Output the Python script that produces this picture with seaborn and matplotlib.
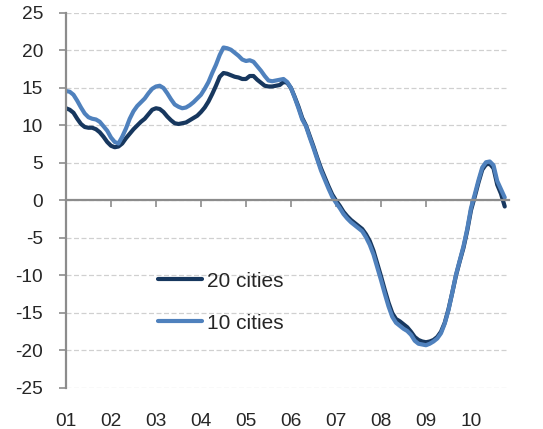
import pandas as pd
import seaborn as sns
import matplotlib.pyplot as plt

# monthly YoY % change, Jan 2001 .. Oct 2010
cities20 = [12.3, 12.1, 11.7, 10.9, 10.2, 9.8, 9.7, 9.7, 9.5, 9.1, 8.5, 7.8,
            7.3, 7.1, 7.2, 7.6, 8.3, 8.9, 9.5, 10.0, 10.5, 10.9, 11.5, 12.1,
            12.3, 12.2, 11.8, 11.2, 10.7, 10.3, 10.2, 10.3, 10.4, 10.7, 11.0, 11.3,
            11.8, 12.4, 13.2, 14.2, 15.3, 16.5, 17.0, 16.9, 16.7, 16.5, 16.4, 16.2,
            16.2, 16.6, 16.6, 16.1, 15.7, 15.3, 15.2, 15.2, 15.3, 15.4, 15.8, 15.7,
            15.0, 13.8, 12.5, 11.0, 10.0, 8.6, 7.2, 5.7, 4.3, 3.1, 1.9, 0.8,
            0.0, -0.7, -1.5, -2.1, -2.6, -3.0, -3.4, -3.8, -4.5, -5.4, -6.7, -8.4,
            -10.1, -11.9, -13.6, -15.0, -15.8, -16.1, -16.5, -16.9, -17.5, -18.2, -18.6, -18.8,
            -18.9, -18.8, -18.6, -18.2, -17.5, -16.3, -14.5, -12.3, -10.0, -8.1, -6.3, -4.0,
            -1.3, 0.5, 2.4, 4.1, 4.8, 4.9, 4.3, 2.1, 0.9, -0.8]

cities10 = [14.6, 14.5, 14.1, 13.3, 12.4, 11.6, 11.1, 10.9, 10.8, 10.5, 9.9, 9.3,
            8.4, 7.8, 7.6, 8.5, 9.6, 10.9, 11.9, 12.6, 13.1, 13.6, 14.3, 14.9,
            15.2, 15.3, 15.0, 14.3, 13.5, 12.8, 12.5, 12.3, 12.4, 12.7, 13.1, 13.6,
            14.1, 14.9, 15.8, 17.0, 18.1, 19.4, 20.4, 20.3, 20.1, 19.7, 19.3, 18.8,
            18.6, 18.7, 18.5, 17.9, 17.3, 16.6, 16.0, 15.9, 16.0, 16.1, 16.2, 15.8,
            15.0, 13.7, 12.3, 10.8, 9.9, 8.4, 7.0, 5.5, 4.0, 2.8, 1.6, 0.5,
            -0.3, -1.0, -1.8, -2.4, -2.9, -3.3, -3.7, -4.1, -4.9, -5.9, -7.2, -8.9,
            -10.6, -12.4, -14.1, -15.5, -16.3, -16.7, -17.1, -17.4, -17.9, -18.7, -19.1, -19.2,
            -19.3, -19.1, -18.8, -18.4, -17.7, -16.4, -14.6, -12.3, -9.9, -8.0, -6.1, -3.8,
            -1.0, 0.8, 2.7, 4.4, 5.1, 5.2, 4.7, 2.6, 1.5, 0.4]

year_labels = ['01', '02', '03', '04', '05', '06', '07', '08', '09', '10']
year_ticks = [2001 + i for i in range(len(year_labels))]

n = len(cities20)
t = [2001 + i / 12 for i in range(n)]
df = pd.DataFrame({
    'year': t + t,
    'value': cities20 + cities10,
    'series': ['20 cities'] * n + ['10 cities'] * n,
})

sns.set_style('white')
plt.rcParams['font.family'] = ['Liberation Sans', 'DejaVu Sans']
plt.rcParams['axes.unicode_minus'] = False

fig = plt.figure(figsize=(5.43, 4.29), dpi=100)
ax = fig.add_axes([0.1215, 0.0956, 0.8155, 0.8741])

sns.lineplot(data=df, x='year', y='value', hue='series',
             hue_order=['20 cities', '10 cities'],
             palette={'20 cities': '#17375E', '10 cities': '#4F81BD'},
             linewidth=3, ax=ax)

ax.set_ylim(-25, 25)
ax.set_xlim(2001, 2010.84)
ax.set_yticks(range(-25, 26, 5))
ax.yaxis.grid(True, color='#d0d0d0', linestyle=(0, (4, 2)), linewidth=0.9)
ax.set_axisbelow(True)
ax.set_xlabel('')
ax.set_ylabel('')

for s in ['top', 'right']:
    ax.spines[s].set_visible(False)
ax.spines['left'].set_color('#8c8c8c')
ax.spines['left'].set_linewidth(1.6)
ax.spines['bottom'].set_position(('data', 0))
ax.spines['bottom'].set_color('#8c8c8c')
ax.spines['bottom'].set_linewidth(1.6)

ax.set_xticks(year_ticks)
ax.tick_params(axis='x', direction='out', length=5, width=1.2, color='#8c8c8c',
               labelbottom=False, bottom=True)
ax.tick_params(axis='y', direction='out', length=5, width=1.2, color='#8c8c8c',
               labelsize=13.8, labelcolor='#262626', pad=11.5, left=True)

sec = ax.secondary_xaxis('bottom')
sec.set_xticks(year_ticks)
sec.set_xticklabels(year_labels)
sec.tick_params(length=0, pad=18, labelsize=13.8, labelcolor='#262626')
sec.spines['bottom'].set_visible(False)

ax.legend(frameon=False, loc='center left', bbox_to_anchor=(0.207, 0.229),
          handlelength=2.15, handletextpad=0.2, labelspacing=1.1,
          borderpad=0, borderaxespad=0, fontsize=15, labelcolor='#262626')

fig.savefig('out.png', dpi=100)
